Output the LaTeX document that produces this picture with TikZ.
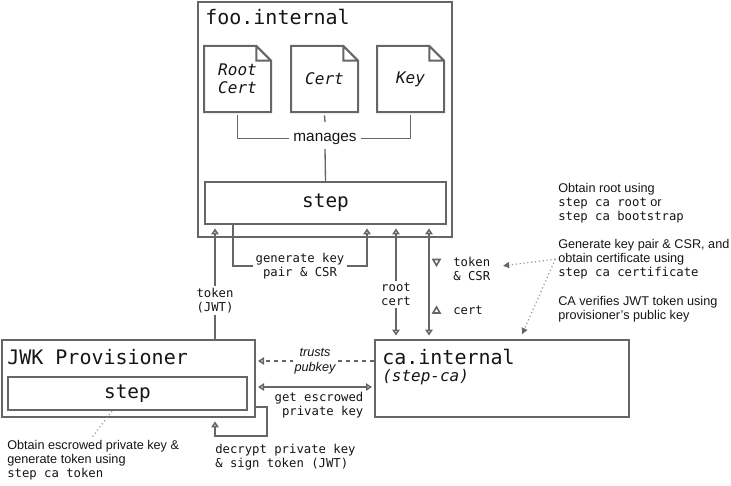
\documentclass[tikz,border=0pt]{standalone}
\usepackage{fontspec}
\setmainfont{Liberation Sans}
\setmonofont{DejaVu Sans Mono}
\usetikzlibrary{positioning, arrows.meta, fit}
\definecolor{linegray}{HTML}{666666}
\definecolor{hintgray}{HTML}{9A9A9A}
\definecolor{ink}{HTML}{151515}

\tikzset{
  box/.style={draw=linegray, line width=1.5pt, inner sep=0pt},
  flow/.style={draw=linegray, line width=1.5pt},
  link/.style={draw=linegray, line width=1pt},
  dirmark/.style={draw=linegray, line width=1.2pt, line join=miter},
  hint/.style={draw=hintgray, line width=0.9pt, dotted},
  hinttip/.style={-{Triangle[length=4.5pt, width=4.5pt, color=linegray]}},
  gap/.style={shorten >=2.5pt},
  title/.style={font=\ttfamily\fontsize{15}{18}\selectfont, text=ink, inner sep=0pt},
  stepname/.style={font=\ttfamily\fontsize{14.5}{17}\selectfont, text=ink},
  doctext/.style={font=\ttfamily\itshape\fontsize{12}{13.5}\selectfont, text=ink, align=center, inner sep=0pt},
  tag/.style={font=\ttfamily\fontsize{9.2}{10.5}\selectfont, text=ink, inner sep=1.5pt},
  note/.style={font=\fontsize{9.5}{10.5}\selectfont, text=ink, align=left, inner sep=0pt},
}

\begin{document}
\begin{tikzpicture}[x=0.75pt, y=-0.75pt, >={Triangle[open, length=4.5pt, width=5.5pt]}]
    \useasboundingbox (0,0) rectangle (731,485);

    % foo.internal
    \node[box, fit={(198,2) (452,237)}] (foo) {};
    \node[title, anchor=base west] at (205,25) {foo.internal};
    \foreach \x/\name/\txt in {205/rootdoc/{Root\\Cert}, 292/certdoc/Cert, 378/keydoc/Key} {
        \node[box, draw=none, fit={(\x,47) (\x+65,111)}] (\name) {};
        \node[doctext] at (\name.center) {\txt};
        \draw[flow] (\name.north west) -- ([xshift=-11pt]\name.north east) -- ([yshift=-11pt]\name.north east)
            -- (\name.south east) -- (\name.south west) -- cycle
            ([xshift=-11pt]\name.north east) |- ([yshift=-11pt]\name.north east);
    }
    \node[font=\fontsize{11.5}{13}\selectfont, text=ink] (manages) at (325,138.5) {manages};
    \node[box, fit={(205,182) (446,224)}] (foostep) {};
    \node[stepname] at (foostep.center) {step};
    \draw[link] ([yshift=-2.5pt]rootdoc.south) |- (manages.west);
    \draw[link] ([yshift=-2.5pt]keydoc.south) |- (manages.east);
    \draw[link] ([yshift=-2.5pt]certdoc.south) -- ([yshift=4.5pt]manages.north);
    \draw[link] (manages.south) -- (foostep.north);

    % JWK Provisioner
    \node[box, fit={(2,340) (255,417)}] (jwk) {};
    \node[title, anchor=base west] at (7,364) {JWK Provisioner};
    \node[box, fit={(8,377) (247,410)}] (jwkstep) {};
    \node[stepname] at (jwkstep.center) {step};

    % ca.internal
    \node[box, fit={(375,340) (629,417)}] (ca) {};
    \node[title, anchor=base west] at (382,364) {ca.internal};
    \node[doctext, anchor=base west] at (382,381) {(step-ca)};

    % flows
    \draw[flow, gap, ->] (jwk.north -| 215,0) -- node[tag, fill=white, align=center, pos=0.34] {token\\(JWT)} (foostep.south -| 215,0);
    \node[tag, align=center] (genkey) at (300,266) {generate key\\pair \& CSR};
    \draw[flow] (foostep.south -| 233,0) |- (genkey.west);
    \draw[flow, gap, ->] (genkey.east) -| (foostep.south -| 367,0);
    \draw[flow, gap, shorten <=2.5pt, <->] (foostep.south -| 396,0) -- node[tag, fill=white, align=center, pos=0.61] {root\\cert} (ca.north -| 396,0);
    \draw[flow, gap, shorten <=2.5pt, <->] (foostep.south -| 429,0) -- (ca.north -| 429,0);
    \node[tag, align=left, anchor=west] (tokcsr) at (451,268.5) {token\\\& CSR};
    \node[tag, anchor=west] (certtag) at (451,310) {cert};
    \draw[dirmark] (433,259.5) -- (440,259.5) -- (436.5,265.5) -- cycle;
    \draw[dirmark] (433,313) -- (440,313) -- (436.5,307) -- cycle;

    \draw[flow, dashed, shorten >=1.5pt, ->] (ca.west |- 0,361) -- node[font=\itshape\fontsize{9.5}{11}\selectfont, text=ink, fill=white, align=center, inner sep=1pt] {trusts\\pubkey} (jwk.east |- 0,361);
    \draw[flow, shorten >=1.5pt, shorten <=1.5pt, <->] (jwk.east |- 0,387) -- node[tag, align=right, below, xshift=3pt, yshift=-1.5pt] {get escrowed\\private key} (ca.west |- 0,387);
    \draw[flow, gap, ->] (jwk.east |- 0,407) -| (267,436) -| (jwk.south -| 215,0);
    \node[tag, align=left, anchor=north west] (decrypt) at (213,442) {decrypt private key\\\& sign token (JWT)};

    % notes
    \node[note, anchor=north west] (escrownote) at (7,440) {Obtain escrowed private key \&\\generate token using\\{\ttfamily\fontsize{9.2}{10.5}\selectfont step ca token}};
    \draw[hint] (jwkstep.south -| 112,0) -- ([yshift=2pt]escrownote.north -| 92,0);
    \node[note, anchor=north west] (rootnote) at (558,183) {Obtain root using\\{\ttfamily\fontsize{9.2}{10.5}\selectfont step ca root} or\\{\ttfamily\fontsize{9.2}{10.5}\selectfont step ca bootstrap}};
    \node[note, anchor=north west] (gennote) at (558,239) {Generate key pair \& CSR, and\\obtain certificate using\\{\ttfamily\fontsize{9.2}{10.5}\selectfont step ca certificate}};
    \node[note, anchor=north west] (verifynote) at (558,296) {CA verifies JWT token using\\provisioner’s public key};
    \draw[hint, hinttip] ([xshift=-2pt]gennote.west) -- ([xshift=8pt, yshift=2pt]tokcsr.east);
    \draw[hint, hinttip, shorten >=4pt] ([xshift=-2pt]gennote.west) -- (ca.north -| 520,0);
\end{tikzpicture}
\end{document}
